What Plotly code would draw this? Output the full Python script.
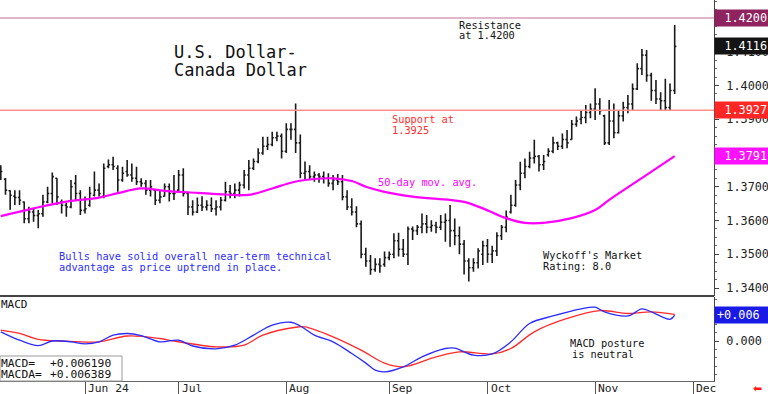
import plotly.graph_objects as go
import pandas as pd

# ---------------- data ----------------
dates = pd.bdate_range("2024-05-08", "2024-11-26")

opens = [1.3740,1.3722,1.3688,1.3672,1.3668,1.3655,1.3605,1.3625,1.3615,1.3620,
         1.3655,1.3680,1.3725,1.3655,1.3645,1.3640,1.3710,1.3680,1.3630,1.3645,
         1.3675,1.3690,1.3672,1.3760,1.3765,1.3755,1.3720,1.3745,1.3735,1.3725,
         1.3715,1.3710,1.3690,1.3690,1.3660,1.3672,1.3700,1.3680,1.3690,1.3735,
         1.3680,1.3640,1.3625,1.3645,1.3640,1.3645,1.3635,1.3640,1.3660,1.3685,
         1.3680,1.3690,1.3705,1.3735,1.3755,1.3775,1.3800,1.3820,1.3825,1.3845,
         1.3850,1.3805,1.3870,1.3870,1.3830,1.3740,1.3745,1.3730,1.3735,1.3730,
         1.3725,1.3710,1.3720,1.3715,1.3670,1.3640,1.3625,1.3590,1.3500,1.3480,
         1.3455,1.3470,1.3470,1.3490,1.3500,1.3540,1.3515,1.3500,1.3575,1.3570,
         1.3580,1.3590,1.3580,1.3585,1.3580,1.3595,1.3600,1.3570,1.3555,1.3530,
         1.3480,1.3460,1.3475,1.3500,1.3525,1.3500,1.3510,1.3555,1.3580,1.3625,
         1.3645,1.3705,1.3740,1.3760,1.3785,1.3790,1.3765,1.3795,1.3805,1.3830,
         1.3820,1.3840,1.3840,1.3885,1.3900,1.3905,1.3920,1.3930,1.3945,1.3910,
         1.3830,1.3895,1.3860,1.3910,1.3935,1.3945,1.3990,1.4050,1.4090,1.4030,
         1.3985,1.3960,1.3955,1.3935,1.3985]
highs = [1.3764,1.3726,1.3690,1.3690,1.3690,1.3656,1.3641,1.3636,1.3631,1.3676,
         1.3700,1.3742,1.3725,1.3662,1.3652,1.3720,1.3735,1.3690,1.3671,1.3700,
         1.3745,1.3710,1.3769,1.3781,1.3789,1.3764,1.3759,1.3779,1.3769,1.3759,
         1.3725,1.3720,1.3720,1.3690,1.3690,1.3710,1.3710,1.3735,1.3750,1.3755,
         1.3685,1.3660,1.3668,1.3672,1.3660,1.3668,1.3660,1.3670,1.3715,1.3705,
         1.3710,1.3715,1.3750,1.3779,1.3784,1.3814,1.3848,1.3848,1.3863,1.3863,
         1.3858,1.3888,1.3888,1.3947,1.3855,1.3775,1.3764,1.3745,1.3741,1.3745,
         1.3740,1.3735,1.3738,1.3735,1.3690,1.3666,1.3642,1.3600,1.3519,1.3498,
         1.3488,1.3488,1.3508,1.3508,1.3562,1.3564,1.3545,1.3582,1.3582,1.3587,
         1.3621,1.3616,1.3601,1.3596,1.3616,1.3621,1.3646,1.3606,1.3582,1.3542,
         1.3488,1.3488,1.3518,1.3540,1.3545,1.3525,1.3565,1.3587,1.3630,1.3676,
         1.3720,1.3774,1.3784,1.3804,1.3839,1.3794,1.3794,1.3814,1.3848,1.3833,
         1.3858,1.3868,1.3898,1.3908,1.3927,1.3942,1.3947,1.3992,1.3962,1.3913,
         1.3957,1.3947,1.3927,1.3952,1.3972,1.4006,1.4066,1.4108,1.4105,1.4038,
         1.4016,1.3980,1.4020,1.4006,1.4179]
lows = [1.3720,1.3676,1.3632,1.3646,1.3646,1.3592,1.3592,1.3596,1.3577,1.3611,
        1.3651,1.3651,1.3646,1.3621,1.3611,1.3636,1.3661,1.3616,1.3621,1.3641,
        1.3671,1.3671,1.3666,1.3755,1.3750,1.3685,1.3715,1.3730,1.3715,1.3705,
        1.3700,1.3676,1.3671,1.3646,1.3651,1.3671,1.3656,1.3661,1.3685,1.3671,
        1.3616,1.3615,1.3622,1.3628,1.3630,1.3625,1.3615,1.3630,1.3656,1.3666,
        1.3666,1.3671,1.3695,1.3690,1.3750,1.3770,1.3795,1.3809,1.3820,1.3835,
        1.3784,1.3800,1.3839,1.3800,1.3725,1.3720,1.3720,1.3715,1.3712,1.3710,
        1.3700,1.3690,1.3705,1.3660,1.3631,1.3615,1.3580,1.3488,1.3463,1.3439,
        1.3448,1.3445,1.3463,1.3482,1.3488,1.3493,1.3492,1.3468,1.3542,1.3557,
        1.3562,1.3562,1.3567,1.3562,1.3572,1.3537,1.3522,1.3527,1.3500,1.3440,
        1.3419,1.3448,1.3458,1.3468,1.3475,1.3474,1.3495,1.3542,1.3565,1.3621,
        1.3641,1.3690,1.3725,1.3755,1.3769,1.3745,1.3750,1.3789,1.3799,1.3809,
        1.3812,1.3814,1.3839,1.3878,1.3885,1.3888,1.3903,1.3898,1.3913,1.3824,
        1.3824,1.3844,1.3858,1.3893,1.3918,1.3927,1.3987,1.4031,1.4011,1.3955,
        1.3945,1.3927,1.3927,1.3927,1.3975]
closes = [1.3745,1.3690,1.3675,1.3668,1.3660,1.3605,1.3625,1.3615,1.3620,1.3655,
          1.3680,1.3730,1.3670,1.3645,1.3640,1.3700,1.3680,1.3630,1.3635,1.3680,
          1.3690,1.3680,1.3755,1.3765,1.3760,1.3720,1.3740,1.3735,1.3725,1.3715,
          1.3710,1.3690,1.3700,1.3660,1.3670,1.3700,1.3680,1.3680,1.3735,1.3680,
          1.3640,1.3625,1.3645,1.3640,1.3645,1.3635,1.3640,1.3660,1.3685,1.3680,
          1.3690,1.3705,1.3735,1.3755,1.3775,1.3800,1.3820,1.3825,1.3845,1.3850,
          1.3805,1.3870,1.3870,1.3830,1.3740,1.3745,1.3730,1.3735,1.3730,1.3725,
          1.3710,1.3720,1.3715,1.3670,1.3640,1.3625,1.3590,1.3500,1.3480,1.3455,
          1.3470,1.3465,1.3490,1.3500,1.3540,1.3515,1.3500,1.3575,1.3570,1.3580,
          1.3590,1.3580,1.3585,1.3580,1.3595,1.3600,1.3570,1.3555,1.3530,1.3480,
          1.3460,1.3475,1.3510,1.3525,1.3500,1.3510,1.3555,1.3580,1.3610,1.3645,
          1.3705,1.3740,1.3760,1.3785,1.3790,1.3765,1.3775,1.3805,1.3830,1.3820,
          1.3840,1.3830,1.3885,1.3895,1.3905,1.3920,1.3930,1.3945,1.3925,1.3830,
          1.3895,1.3860,1.3910,1.3935,1.3945,1.3990,1.4050,1.4090,1.4030,1.3985,
          1.3960,1.3955,1.3935,1.3985,1.4116]

ma_idx = [0, 7, 14, 21, 25, 30, 35, 42, 48, 53, 58, 62, 65, 71, 75, 78, 82, 88,
          96, 99, 103, 108, 112, 116, 122, 127, 130, 138, 144]
ma_vals = [1.3613, 1.3636, 1.3656, 1.3668, 1.3681, 1.3695, 1.3688, 1.3682, 1.3677,
           1.3676, 1.3695, 1.3712, 1.3720, 1.3725, 1.3717, 1.3700, 1.3685, 1.3671,
           1.3661, 1.3655, 1.3636, 1.3607, 1.3593, 1.3593, 1.3607, 1.3631, 1.3661,
           1.3735, 1.3791]

macd_idx = [0, 4, 8, 11, 15, 18, 21, 24, 27, 30, 34, 38, 41, 46, 50, 54, 58, 62,
            64, 67, 71, 75, 78, 80, 82, 86, 90, 95, 97, 101, 105, 109, 113, 118,
            124, 127, 129, 134, 137, 139, 143, 144]
macd_vals = [0.0022, 0.0002, -0.0011, 0.0000, -0.0002, -0.0007, -0.0002, 0.0014,
             0.0018, 0.0013, -0.0002, 0.0002, -0.0012, -0.0019, -0.0010, 0.0014,
             0.0038, 0.0045, 0.0036, 0.0014, -0.0002, -0.0030, -0.0053, -0.0070,
             -0.0074, -0.0062, -0.0038, -0.0018, -0.0017, -0.0034, -0.0031,
             -0.0002, 0.0042, 0.0060, 0.0077, 0.0081, 0.0070, 0.0060, 0.0077,
             0.0070, 0.0052, 0.00619]
sig_idx = [0, 4, 8, 13, 21, 27, 34, 37, 46, 52, 56, 63, 65, 71, 77, 82, 86, 93,
           98, 105, 109, 114, 121, 128, 134, 139, 144]
sig_vals = [0.0026, 0.0018, 0.0004, 0.0000, -0.0002, 0.0012, 0.0006, 0.0000,
            -0.0014, -0.0010, 0.0014, 0.0033, 0.0034, 0.0010, -0.0022, -0.0053,
            -0.0062, -0.0038, -0.0026, -0.0031, -0.0018, 0.0022, 0.0054, 0.0073,
            0.0066, 0.0070, 0.006389]

price_ticks = [1.34, 1.35, 1.36, 1.37, 1.38, 1.39, 1.40, 1.41]
price_ticktext = ["1.3400", "1.3500", "1.3600", "1.3700", "1.3800", "1.3900", "1.4000", "1.4100"]
month_ticks = ["2024-06-03", "2024-07-01", "2024-08-01", "2024-09-02", "2024-10-01", "2024-11-01", "2024-12-02"]
month_labels = ["Jun 24", "Jul", "Aug", "Sep", "Oct", "Nov", "Dec"]

resistance = 1.4200
support = 1.3927
last_close = 1.4116
last_ma = 1.3791
macd_last = 0.006190
macda_last = 0.006389

# ---------------- layout helpers ----------------
W, H = 768, 394
RM, BM = 54, 13
PW, PH = W - RM, H - BM
MONO = "DejaVu Sans Mono"


def px(x):
    return x / PW


def py(y):
    return (PH - y) / PH


fig = go.Figure()

fig.add_trace(go.Ohlc(
    x=dates, open=opens, high=highs, low=lows, close=closes,
    increasing=dict(line=dict(color="#1a1a1a", width=1.6)),
    decreasing=dict(line=dict(color="#1a1a1a", width=1.6)),
    tickwidth=0.35, xaxis="x", yaxis="y", hoverinfo="skip", showlegend=False))

fig.add_trace(go.Scatter(
    x=dates[ma_idx], y=ma_vals, mode="lines",
    line=dict(color="#FF00FF", width=2.2, shape="spline", smoothing=1.0),
    xaxis="x", yaxis="y", hoverinfo="skip", showlegend=False))

fig.add_trace(go.Scatter(
    x=dates[sig_idx], y=sig_vals, mode="lines",
    line=dict(color="#FF2A2A", width=1.3, shape="spline", smoothing=1.0),
    xaxis="x2", yaxis="y2", hoverinfo="skip", showlegend=False))
fig.add_trace(go.Scatter(
    x=dates[macd_idx], y=macd_vals, mode="lines",
    line=dict(color="#2B2BFF", width=1.3, shape="spline", smoothing=1.0),
    xaxis="x2", yaxis="y2", hoverinfo="skip", showlegend=False))

xrange = ["2024-05-07 19:54", "2024-12-06 09:36"]
rb = [dict(bounds=["sat", "mon"])]

fig.update_layout(
    width=W, height=H,
    margin=dict(l=0, r=RM, t=0, b=BM),
    paper_bgcolor="white", plot_bgcolor="white",
    showlegend=False, hovermode=False,
    xaxis=dict(domain=[0, 1], anchor="y", range=xrange, rangebreaks=rb,
               showticklabels=False, showgrid=False, zeroline=False, ticks="",
               rangeslider=dict(visible=False), showline=False),
    xaxis2=dict(domain=[0, 1], anchor="y2", range=xrange, rangebreaks=rb,
                tickmode="array", tickvals=month_ticks, ticktext=[""] * len(month_ticks),
                ticks="outside", ticklen=13, tickwidth=1, tickcolor="#555",
                showgrid=False, zeroline=False,
                showline=True, linecolor="#666", linewidth=1),
    yaxis=dict(domain=[py(296), 1], anchor="x", side="right",
               range=[1.34 + (288 - 296) / 3375, 1.34 + 288 / 3375],
               tickmode="array", tickvals=price_ticks, ticktext=price_ticktext,
               ticks="outside", ticklen=4, tickcolor="#444",
               minor=dict(dtick=0.0025, tick0=1.34, ticks="outside", ticklen=2, tickcolor="#666"),
               tickfont=dict(family=MONO, size=11.8, color="#222"),
               ticklabelstandoff=5,
               showline=True, linecolor="#444", linewidth=1,
               showgrid=False, zeroline=False),
    yaxis2=dict(domain=[0, py(297)], anchor="x2", side="right",
                range=[(341 - 381) / 4170, (341 - 297) / 4170],
                tickmode="array", tickvals=[0], ticktext=["0.000"],
                ticks="outside", ticklen=4, tickcolor="#444",
                minor=dict(dtick=0.002, tick0=0, ticks="outside", ticklen=2, tickcolor="#666"),
                tickfont=dict(family=MONO, size=11.8, color="#222"),
                ticklabelstandoff=5,
                showline=True, linecolor="#444", linewidth=1,
                showgrid=False, zeroline=False),
)

shapes = [
    dict(type="line", xref="paper", yref="y", x0=0, x1=1, y0=resistance, y1=resistance,
         line=dict(color="#C46C98", width=1.2)),
    dict(type="line", xref="paper", yref="y", x0=0, x1=1, y0=support, y1=support,
         line=dict(color="#FF8E8E", width=1.5)),
    dict(type="line", xref="paper", yref="paper", x0=0, x1=1, y0=py(296), y1=py(296),
         line=dict(color="#444", width=2)),
    dict(type="rect", xref="paper", yref="paper", x0=px(0), x1=px(122), y0=py(381), y1=py(356),
         line=dict(color="#999", width=1), fillcolor="white", layer="above"),
]
fig.update_layout(shapes=shapes)

anns = []


def txt(x, y, s, size=10.3, color="#111", family=MONO):
    anns.append(dict(x=px(x), y=py(y), xref="paper", yref="paper", text=s,
                     showarrow=False, xanchor="left", yanchor="middle",
                     font=dict(family=family, size=size, color=color)))


txt(172, 52.5, "U.S. Dollar-", 17)
txt(172, 70, "Canada Dollar", 17)
txt(457, 25, "Resistance")
txt(457, 35, "at 1.4200")
txt(390, 119, "Support at", color="#FF2E2E")
txt(390, 129.5, "1.3925", color="#FF2E2E")
txt(376, 182, "50-day mov. avg.", color="#FF00FF")
txt(57, 255.5, "Bulls have solid overall near-term technical", color="#2E2EFF")
txt(57, 266.5, "advantage as price uptrend in place.", color="#2E2EFF")
txt(541, 255, "Wyckoff's Market")
txt(541, 265.5, "Rating: 8.0")
txt(568, 343, "MACD posture")
txt(570, 354, "is neutral")
txt(-1, 304, "MACD", 11)
txt(-1, 363, "MACD=", 11.3)
txt(48, 363, f"+{macd_last:.6f}", 11.3)
txt(-1, 374, "MACDA=", 11.3)
txt(48, 374, f"+{macda_last:.6f}", 11.3)

for d, lab in zip(month_ticks, month_labels):
    anns.append(dict(x=d, y=py(388), xref="x2", yref="paper", text=lab, showarrow=False,
                     xanchor="left", yanchor="middle", xshift=1,
                     font=dict(family=MONO, size=11.3, color="#222")))


def box(val, yref, label, bg, align="right"):
    anns.append(dict(x=1, y=val, xref="paper", yref=yref, text=label, showarrow=False,
                     xanchor="left", yanchor="middle", width=50, height=12, borderpad=2,
                     align=align, bgcolor=bg,
                     font=dict(family=MONO, size=11.8, color="white")))


box(resistance, "y", f"{resistance:.4f}", "#8E2360")
box(last_close, "y", f"{last_close:.4f}", "#141414")
box(support, "y", f"{support:.4f}", "#FF2626")
box(last_ma, "y", f"{last_ma:.4f}", "#FF10FF")
box(macd_last, "y2", f"+{macd_last:.3f}", "#1A1AE6", align="left")

anns.append(dict(x=px(757), y=py(388), xref="paper", yref="paper", text="⬅", showarrow=False,
                 xanchor="center", yanchor="middle",
                 font=dict(family="DejaVu Sans", size=11, color="#FF1A1A")))

fig.update_layout(annotations=anns)

fig.write_html("out.html",
               config={"displayModeBar": False, "staticPlot": True},
               post_script="document.body.style.margin='0px';document.body.style.padding='0px';"
                           "document.body.style.overflow='hidden';")
